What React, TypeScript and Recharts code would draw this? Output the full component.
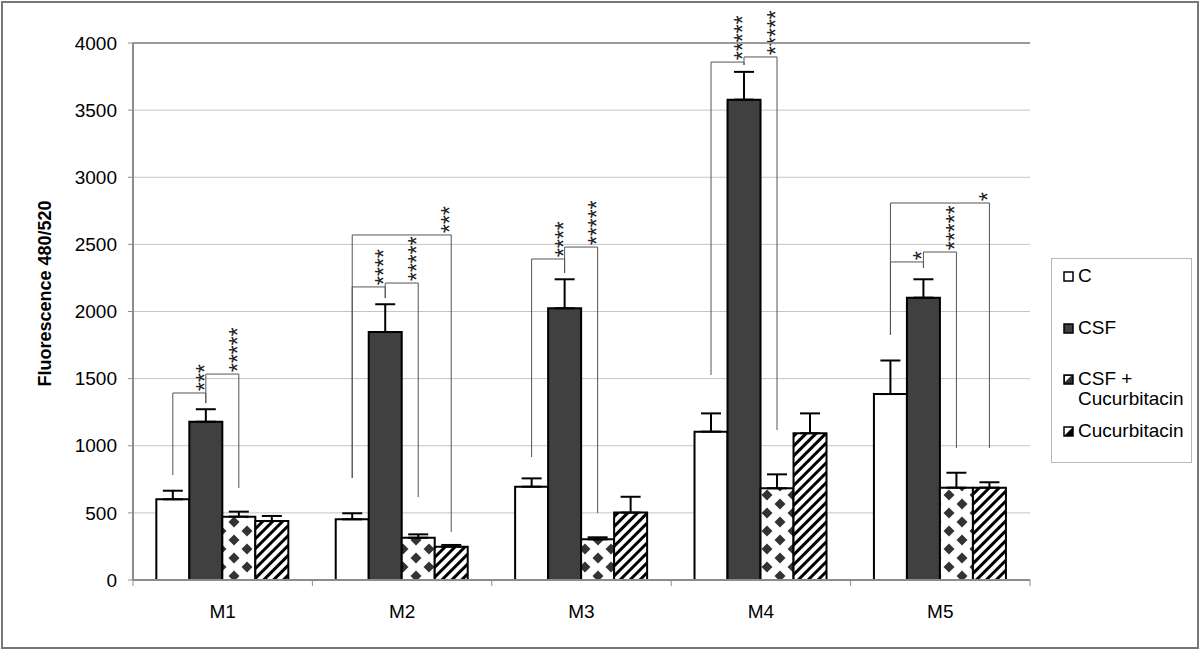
import { BarChart, Bar, XAxis, YAxis, CartesianGrid, ErrorBar, ReferenceLine, Rectangle } from 'recharts';

/* ── Data ─────────────────────────────────────── */

const CATEGORIES = ['M1', 'M2', 'M3', 'M4', 'M5'];

const C_VALUES = [601, 452, 695, 1105, 1385];
const C_ERRORS = [64, 45, 62, 136, 250];
const CSF_VALUES = [1179, 1847, 2024, 3578, 2103];
const CSF_ERRORS = [93, 207, 216, 207, 137];
const CSF_CUC_VALUES = [472, 315, 303, 683, 688];
const CSF_CUC_ERRORS = [37, 25, 15, 104, 111];
const CUC_VALUES = [439, 248, 502, 1093, 688];
const CUC_ERRORS = [38, 13, 118, 148, 40];

const Y_TICKS = [0, 500, 1000, 1500, 2000, 2500, 3000, 3500, 4000];

// significance brackets: group, from bar, to bar, bracket level, leg ends, number of stars
const BRACKETS = [
  { group: 0, from: 0, to: 1, top: 1393, fromEnd: 782, toEnd: 1318, stars: 3 },
  { group: 0, from: 1, to: 2, top: 1534, fromEnd: 1318, toEnd: 685, stars: 5 },
  { group: 1, from: 0, to: 3, top: 2570, fromEnd: 760, toEnd: 358, stars: 3 },
  { group: 1, from: 0, to: 1, top: 2183, fromEnd: 760, toEnd: 2100, stars: 4 },
  { group: 1, from: 1, to: 2, top: 2212, fromEnd: 2100, toEnd: 618, stars: 5 },
  { group: 2, from: 0, to: 1, top: 2391, fromEnd: 916, toEnd: 2287, stars: 4 },
  { group: 2, from: 1, to: 2, top: 2480, fromEnd: 2287, toEnd: 499, stars: 5 },
  { group: 3, from: 0, to: 1, top: 3858, fromEnd: 1527, toEnd: 3836, stars: 5 },
  { group: 3, from: 1, to: 2, top: 3896, fromEnd: 3836, toEnd: 1117, stars: 5 },
  { group: 4, from: 0, to: 3, top: 2808, fromEnd: 1825, toEnd: 983, stars: 1 },
  { group: 4, from: 0, to: 1, top: 2369, fromEnd: 1825, toEnd: 2324, stars: 1 },
  { group: 4, from: 1, to: 2, top: 2443, fromEnd: 2324, toEnd: 983, stars: 5 },
];

const SERIES = [
  { key: 'c', name: 'C', fill: '#ffffff', values: C_VALUES, errors: C_ERRORS },
  { key: 'csf', name: 'CSF', fill: '#404040', values: CSF_VALUES, errors: CSF_ERRORS },
  { key: 'csfCuc', name: 'CSF + Cucurbitacin', fill: 'url(#diamonds)', values: CSF_CUC_VALUES, errors: CSF_CUC_ERRORS },
  { key: 'cuc', name: 'Cucurbitacin', fill: 'url(#stripes)', values: CUC_VALUES, errors: CUC_ERRORS },
];

const chartData = CATEGORIES.map((name, i) => {
  const row: Record<string, any> = { name };
  SERIES.forEach((s) => {
    row[s.key] = s.values[i];
    row[s.key + 'Err'] = [0, s.errors[i]];
  });
  return row;
});

const FONT = '"Liberation Sans", Arial, sans-serif';
const BRACKET_COLOR = '#555';

/* ── Custom pieces ────────────────────────────── */

// x tick: category label in the middle, tick marks on the band edges
function XTick({ x, y, payload }: any) {
  const half = payload.offset ?? 0;
  const last = payload.index === CATEGORIES.length - 1;
  return (
    <g>
      <line x1={x - half} x2={x - half} y1={y} y2={y + 6} stroke="#8c8c8c" />
      {last && <line x1={x + half} x2={x + half} y1={y} y2={y + 6} stroke="#8c8c8c" />}
      <text x={x} y={y + 38} textAnchor="middle" fontSize={19} fill="#000">
        {payload.value}
      </text>
    </g>
  );
}

// first bar of each group also carries that group's significance brackets,
// placed from the bar geometry the library computed
function BarWithBrackets(props: any) {
  const { x, y, width, height, index, payload, fill, stroke, strokeWidth } = props;
  const base = y + height;
  const perUnit = height / payload.c;
  const toY = (v: number) => base - v * perUnit;
  const centre = (j: number) => x + width * (j + 0.5);
  return (
    <g>
      <Rectangle x={x} y={y} width={width} height={height} fill={fill} stroke={stroke} strokeWidth={strokeWidth} />
      {BRACKETS.filter((b) => b.group === index).map((b, k) => {
        const xa = centre(b.from);
        const xb = centre(b.to);
        const yt = toY(b.top);
        const sx = xb - 6;
        const sy = yt - 2;
        return (
          <g key={k}>
            <polyline
              points={`${xa},${toY(b.fromEnd)} ${xa},${yt} ${xb},${yt} ${xb},${toY(b.toEnd)}`}
              fill="none"
              stroke={BRACKET_COLOR}
              strokeWidth={1}
            />
            <text
              x={sx + 13}
              y={sy}
              transform={`rotate(-90 ${sx + 13} ${sy})`}
              fontSize={23}
              fill="#222"
            >
              {'*'.repeat(b.stars)}
            </text>
          </g>
        );
      })}
    </g>
  );
}

function LegendIcon({ k }: { k: string }) {
  return (
    <svg width={11} height={11} style={{ marginRight: 4, flex: 'none' }}>
      <rect x={1} y={1} width={9} height={9} fill={k === 'csf' ? '#404040' : k === 'csfCuc' ? '#303030' : '#fff'} stroke="#000" strokeWidth={1.5} />
      {k === 'csfCuc' && <polygon points="2,2 8,2 2,8" fill="#fff" />}
      {k === 'cuc' && <polygon points="1,10 10,1 10,10" fill="#000" />}
    </svg>
  );
}

const LEGEND_GAPS = [7, 32, 31, 12];

/* ── Chart ────────────────────────────────────── */

export default function App() {
  return (
    <div style={{ position: 'absolute', left: 0, top: 0, width: 1200, height: 651, fontFamily: FONT, background: '#fff' }}>
      <div style={{ position: 'absolute', left: 1, top: 1, width: 1198, height: 648, border: '2px solid #777', boxSizing: 'border-box' }} />
      <BarChart
        width={1200}
        height={651}
        data={chartData}
        margin={{ top: 43, right: 170, bottom: 31, left: 0 }}
        barCategoryGap="13%"
        barGap={0}
        style={{ position: 'absolute', left: 0, top: 0 }}
      >
        <defs>
          <pattern id="diamonds" patternUnits="userSpaceOnUse" width={26} height={18}>
            <rect width={26} height={18} fill="#fff" />
            {[
              [0, 0], [26, 0], [13, 9], [0, 18], [26, 18],
            ].map(([px, py], i) => (
              <polygon key={i} points={`${px},${py - 5.5} ${px + 5.5},${py} ${px},${py + 5.5} ${px - 5.5},${py}`} fill="#333" />
            ))}
          </pattern>
          <pattern id="stripes" patternUnits="userSpaceOnUse" width={7} height={7} patternTransform="rotate(45)">
            <rect width={7} height={7} fill="#fff" />
            <rect width={3} height={7} fill="#000" />
          </pattern>
        </defs>
        <CartesianGrid horizontal vertical={false} stroke="#c4c4c4" />
        <XAxis
          dataKey="name"
          interval={0}
          tick={<XTick />}
          tickLine={false}
          tickSize={0}
          tickMargin={0}
          height={40}
          axisLine={{ stroke: '#8c8c8c', strokeWidth: 2 }}
        />
        <YAxis
          domain={[0, 4000]}
          ticks={Y_TICKS}
          interval={0}
          width={133}
          tick={{ fontSize: 19, fill: '#000' }}
          tickSize={5}
          tickMargin={11}
          tickLine={{ stroke: '#8c8c8c' }}
          axisLine={{ stroke: '#8c8c8c', strokeWidth: 2 }}
          label={{
            content: ({ viewBox }: any) => (
              <text
                x={viewBox.x + 45}
                y={viewBox.y + viewBox.height / 2 - 18}
                transform={`rotate(-90 ${viewBox.x + 45} ${viewBox.y + viewBox.height / 2 - 18})`}
                textAnchor="middle"
                dominantBaseline="central"
                fontSize={18}
                fontWeight="bold"
                fill="#000"
              >
                Fluorescence 480/520
              </text>
            ),
          }}
        />
        {/* plot-area border on the right */}
        <YAxis
          yAxisId="frame"
          orientation="right"
          domain={[0, 4000]}
          width={0}
          tick={false}
          tickLine={false}
          axisLine={{ stroke: '#c4c4c4' }}
        />
        <ReferenceLine y={4000} stroke="#9a9a9a" strokeWidth={2} />
        {SERIES.map((s, i) => (
          <Bar
            key={s.key}
            dataKey={s.key}
            name={s.name}
            fill={s.fill}
            stroke="#000"
            strokeWidth={2}
            isAnimationActive={false}
            shape={i === 0 ? (p: any) => <BarWithBrackets {...p} /> : undefined}
          >
            <ErrorBar dataKey={s.key + 'Err'} direction="y" width={10} stroke="#000" strokeWidth={2} isAnimationActive={false} />
          </Bar>
        ))}
      </BarChart>
      <div
        style={{
          position: 'absolute',
          left: 1051,
          top: 258,
          width: 141,
          height: 205,
          border: '1px solid #b8b8b8',
          boxSizing: 'border-box',
          paddingLeft: 11,
          fontSize: 19,
          lineHeight: '20px',
        }}
      >
        {SERIES.map((s, i) => (
          <div key={s.key} style={{ display: 'flex', alignItems: 'flex-start', marginTop: LEGEND_GAPS[i] }}>
            <div style={{ height: 20, display: 'flex', alignItems: 'center' }}>
              <LegendIcon k={s.key} />
            </div>
            <span>{s.name}</span>
          </div>
        ))}
      </div>
    </div>
  );
}
